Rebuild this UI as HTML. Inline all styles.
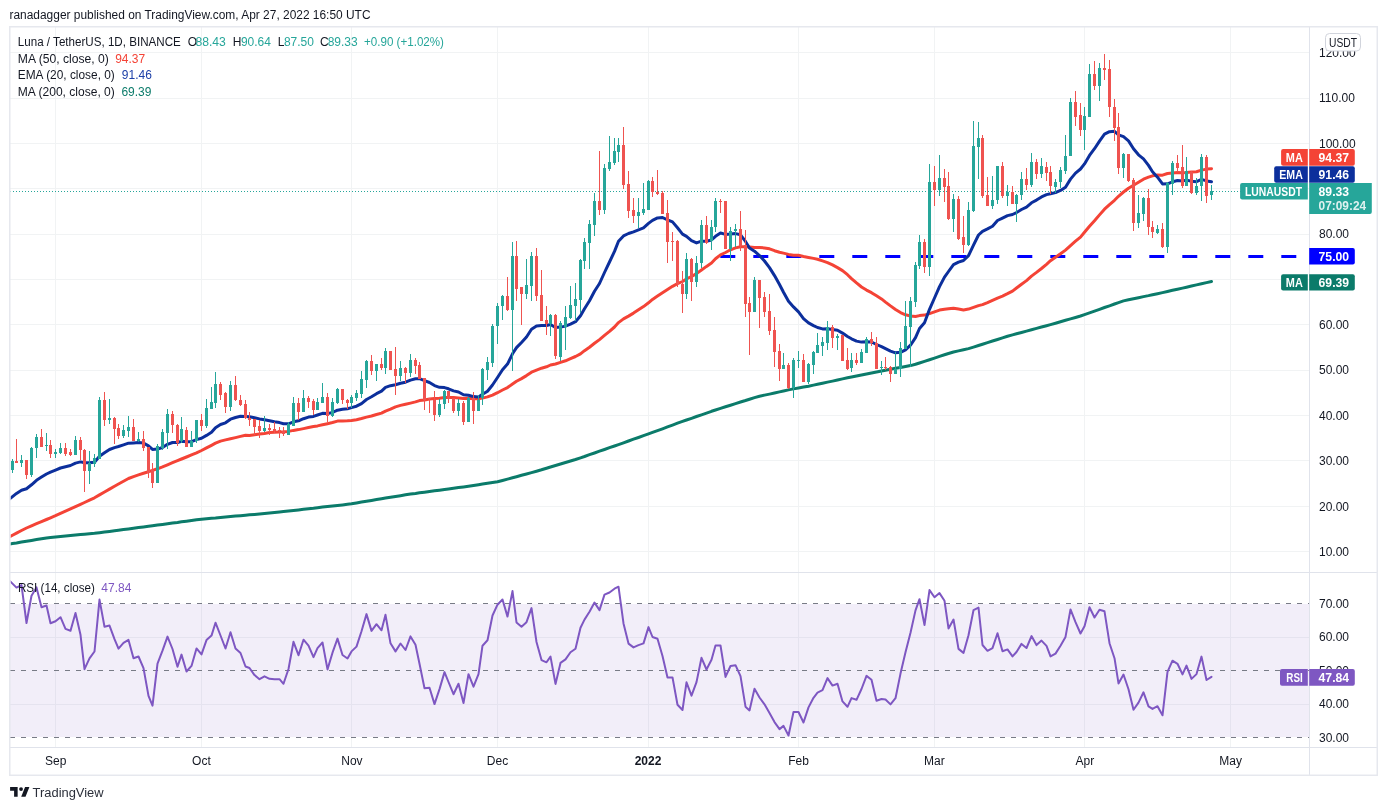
<!DOCTYPE html>
<html><head><meta charset="utf-8"><style>
html,body{margin:0;padding:0;background:#fff;width:1387px;height:810px;overflow:hidden}
svg{display:block;will-change:transform}
</style></head><body>
<svg width="1387" height="810" viewBox="0 0 1387 810" shape-rendering="auto">
<line x1="10" y1="551.5" x2="1309" y2="551.5" stroke="#f1f3f4" stroke-width="1"/>
<line x1="10" y1="506.5" x2="1309" y2="506.5" stroke="#f1f3f4" stroke-width="1"/>
<line x1="10" y1="460.5" x2="1309" y2="460.5" stroke="#f1f3f4" stroke-width="1"/>
<line x1="10" y1="415.5" x2="1309" y2="415.5" stroke="#f1f3f4" stroke-width="1"/>
<line x1="10" y1="370.5" x2="1309" y2="370.5" stroke="#f1f3f4" stroke-width="1"/>
<line x1="10" y1="324.5" x2="1309" y2="324.5" stroke="#f1f3f4" stroke-width="1"/>
<line x1="10" y1="279.5" x2="1309" y2="279.5" stroke="#f1f3f4" stroke-width="1"/>
<line x1="10" y1="234.5" x2="1309" y2="234.5" stroke="#f1f3f4" stroke-width="1"/>
<line x1="10" y1="188.5" x2="1309" y2="188.5" stroke="#f1f3f4" stroke-width="1"/>
<line x1="10" y1="143.5" x2="1309" y2="143.5" stroke="#f1f3f4" stroke-width="1"/>
<line x1="10" y1="98.5" x2="1309" y2="98.5" stroke="#f1f3f4" stroke-width="1"/>
<line x1="10" y1="52.5" x2="1309" y2="52.5" stroke="#f1f3f4" stroke-width="1"/>
<line x1="10" y1="637.5" x2="1309" y2="637.5" stroke="#f1f3f4" stroke-width="1"/>
<line x1="10" y1="704.5" x2="1309" y2="704.5" stroke="#f1f3f4" stroke-width="1"/>
<line x1="55.5" y1="27" x2="55.5" y2="747" stroke="#f1f3f4" stroke-width="1"/>
<line x1="201.5" y1="27" x2="201.5" y2="747" stroke="#f1f3f4" stroke-width="1"/>
<line x1="351.5" y1="27" x2="351.5" y2="747" stroke="#f1f3f4" stroke-width="1"/>
<line x1="497.5" y1="27" x2="497.5" y2="747" stroke="#f1f3f4" stroke-width="1"/>
<line x1="648.5" y1="27" x2="648.5" y2="747" stroke="#f1f3f4" stroke-width="1"/>
<line x1="798.5" y1="27" x2="798.5" y2="747" stroke="#f1f3f4" stroke-width="1"/>
<line x1="934.5" y1="27" x2="934.5" y2="747" stroke="#f1f3f4" stroke-width="1"/>
<line x1="1084.5" y1="27" x2="1084.5" y2="747" stroke="#f1f3f4" stroke-width="1"/>
<line x1="1230.5" y1="27" x2="1230.5" y2="747" stroke="#f1f3f4" stroke-width="1"/>
<rect x="10" y="604" width="1299" height="133" fill="#7e57c2" fill-opacity="0.1"/>
<line x1="10" y1="603.5" x2="1309" y2="603.5" stroke="#787b86" stroke-width="1" stroke-dasharray="5,6"/>
<line x1="10" y1="670.5" x2="1309" y2="670.5" stroke="#787b86" stroke-width="1" stroke-dasharray="5,6"/>
<line x1="10" y1="737.5" x2="1309" y2="737.5" stroke="#787b86" stroke-width="1" stroke-dasharray="5,6"/>
<defs><clipPath id="cm"><rect x="10.5" y="27.5" width="1298.5" height="545"/></clipPath><clipPath id="cr"><rect x="10.5" y="573" width="1298.5" height="174"/></clipPath></defs>
<g clip-path="url(#cm)">
<line x1="10" y1="191.5" x2="1309" y2="191.5" stroke="#26a69a" stroke-width="1" stroke-dasharray="1,2"/>
<line x1="720.3" y1="256.5" x2="1300" y2="256.5" stroke="#0000ff" stroke-width="2.8" stroke-dasharray="15,18"/>
<path d="M8.0,544.4 L12.5,543.6 L16.5,543.0 L21.5,542.1 L26.5,541.3 L31.5,540.4 L36.5,539.6 L41.5,538.7 L46.5,537.9 L50.5,537.4 L55.5,536.9 L60.5,536.4 L65.5,536.0 L70.5,535.5 L75.5,535.0 L80.5,534.6 L84.5,534.2 L89.5,533.7 L94.5,533.3 L99.5,532.7 L104.5,532.0 L109.5,531.4 L114.5,530.7 L118.5,530.2 L123.5,529.5 L128.5,528.9 L133.5,528.2 L138.5,527.5 L143.5,526.9 L148.5,526.2 L152.5,525.7 L157.5,525.0 L162.5,524.4 L167.5,523.7 L172.5,523.0 L177.5,522.4 L181.5,521.8 L186.5,521.2 L191.5,520.5 L196.5,519.8 L201.5,519.3 L206.5,518.8 L211.5,518.3 L215.5,518.0 L220.5,517.5 L225.5,517.1 L230.5,516.6 L235.5,516.1 L240.5,515.7 L245.5,515.2 L249.5,514.8 L254.5,514.4 L259.5,513.9 L264.5,513.4 L269.5,513.0 L274.5,512.5 L279.5,512.0 L283.5,511.6 L288.5,511.0 L293.5,510.4 L298.5,509.9 L303.5,509.3 L308.5,508.7 L313.5,508.2 L317.5,507.7 L322.5,507.1 L327.5,506.6 L332.5,506.0 L337.5,505.4 L342.5,504.9 L347.5,504.3 L351.5,503.8 L356.5,502.9 L361.5,502.1 L366.5,501.3 L371.5,500.4 L376.5,499.6 L381.5,498.8 L385.5,498.1 L390.5,497.3 L395.5,496.5 L400.5,495.7 L405.5,494.8 L410.5,494.0 L415.5,493.4 L419.5,492.8 L424.5,492.2 L429.5,491.5 L434.5,490.8 L439.5,490.2 L444.5,489.5 L448.5,489.0 L453.5,488.3 L458.5,487.6 L463.5,487.0 L468.5,486.3 L473.5,485.5 L478.5,484.7 L482.5,484.1 L487.5,483.3 L492.5,482.6 L497.5,481.8 L502.5,480.5 L507.5,479.1 L512.5,477.8 L516.5,476.7 L521.5,475.3 L526.5,474.0 L531.5,472.6 L536.5,471.2 L541.5,469.8 L546.5,468.2 L550.5,467.0 L555.5,465.5 L560.5,464.0 L565.5,462.5 L570.5,461.0 L575.5,459.5 L580.5,457.8 L584.5,456.5 L589.5,454.7 L594.5,453.0 L599.5,451.2 L604.5,449.5 L609.5,447.7 L614.5,446.0 L618.5,444.6 L623.5,442.8 L628.5,441.0 L633.5,439.2 L638.5,437.5 L643.5,435.7 L648.5,433.9 L652.5,432.4 L657.5,430.6 L662.5,428.8 L667.5,426.9 L672.5,425.1 L677.5,423.2 L682.5,421.4 L686.5,420.0 L691.5,418.3 L696.5,416.5 L701.5,414.8 L706.5,413.1 L711.5,411.3 L715.5,410.0 L720.5,408.3 L725.5,406.7 L730.5,405.2 L735.5,403.6 L740.5,402.0 L745.5,400.5 L749.5,399.2 L754.5,397.6 L759.5,396.2 L764.5,395.1 L769.5,394.1 L774.5,393.0 L779.5,391.9 L783.5,391.0 L788.5,389.9 L793.5,388.9 L798.5,388.0 L803.5,387.1 L808.5,386.2 L813.5,385.1 L817.5,384.3 L822.5,383.2 L827.5,382.1 L832.5,381.1 L837.5,380.0 L842.5,378.9 L847.5,377.8 L851.5,377.0 L856.5,376.0 L861.5,375.0 L866.5,374.0 L871.5,373.0 L876.5,372.0 L881.5,371.0 L885.5,370.2 L890.5,369.2 L895.5,368.3 L900.5,367.4 L905.5,366.5 L910.5,365.6 L915.5,364.3 L919.5,363.0 L924.5,361.3 L929.5,359.7 L934.5,358.1 L939.5,356.4 L944.5,354.8 L948.5,353.5 L953.5,352.0 L958.5,350.9 L963.5,349.8 L968.5,348.6 L973.5,347.1 L978.5,345.5 L982.5,344.2 L987.5,342.6 L992.5,341.0 L997.5,339.5 L1002.5,337.9 L1007.5,336.3 L1012.5,334.9 L1016.5,333.8 L1021.5,332.5 L1026.5,331.1 L1031.5,329.7 L1036.5,328.4 L1041.5,327.0 L1046.5,325.7 L1050.5,324.6 L1055.5,323.2 L1060.5,321.7 L1065.5,320.3 L1070.5,318.9 L1075.5,317.5 L1080.5,316.0 L1084.5,314.6 L1089.5,312.9 L1094.5,311.1 L1099.5,309.3 L1104.5,307.5 L1109.5,305.8 L1114.5,304.0 L1118.5,302.6 L1123.5,300.9 L1128.5,299.8 L1133.5,298.8 L1138.5,297.7 L1143.5,296.6 L1148.5,295.6 L1152.5,294.7 L1157.5,293.7 L1162.5,292.6 L1167.5,291.5 L1172.5,290.3 L1177.5,289.2 L1182.5,288.1 L1186.5,287.2 L1191.5,286.0 L1196.5,284.9 L1201.5,283.8 L1206.5,282.6 L1211.5,281.5" fill="none" stroke="#0b7b6a" stroke-width="3" stroke-linejoin="round" stroke-linecap="round"/>
<path d="M8.0,537.6 L12.5,535.2 L16.5,533.1 L21.5,530.5 L26.5,528.0 L31.5,525.8 L36.5,523.7 L41.5,521.6 L46.5,519.5 L50.5,517.8 L55.5,515.7 L60.5,513.4 L65.5,511.2 L70.5,508.9 L75.5,506.6 L80.5,504.3 L84.5,502.5 L89.5,500.2 L94.5,497.8 L99.5,494.9 L104.5,492.0 L109.5,489.1 L114.5,486.2 L118.5,484.0 L123.5,481.3 L128.5,478.5 L133.5,476.6 L138.5,474.9 L143.5,473.3 L148.5,471.7 L152.5,470.4 L157.5,468.8 L162.5,466.9 L167.5,464.8 L172.5,462.7 L177.5,460.7 L181.5,459.0 L186.5,457.0 L191.5,454.9 L196.5,452.8 L201.5,450.5 L206.5,447.9 L211.5,445.3 L215.5,443.2 L220.5,441.1 L225.5,439.9 L230.5,438.8 L235.5,437.6 L240.5,436.4 L245.5,435.3 L249.5,435.4 L254.5,434.7 L259.5,434.0 L264.5,433.4 L269.5,432.5 L274.5,432.2 L279.5,432.0 L283.5,431.8 L288.5,431.4 L293.5,430.4 L298.5,429.6 L303.5,428.6 L308.5,427.5 L313.5,426.6 L317.5,425.9 L322.5,424.8 L327.5,423.7 L332.5,422.5 L337.5,421.1 L342.5,421.1 L347.5,420.8 L351.5,420.4 L356.5,419.7 L361.5,418.5 L366.5,417.1 L371.5,416.0 L376.5,414.5 L381.5,413.1 L385.5,411.1 L390.5,409.1 L395.5,406.9 L400.5,405.4 L405.5,404.2 L410.5,403.1 L415.5,401.9 L419.5,400.6 L424.5,400.0 L429.5,399.1 L434.5,398.6 L439.5,398.2 L444.5,397.5 L448.5,397.4 L453.5,397.5 L458.5,397.9 L463.5,398.5 L468.5,398.3 L473.5,398.8 L478.5,398.8 L482.5,398.1 L487.5,396.9 L492.5,395.1 L497.5,392.7 L502.5,390.0 L507.5,387.6 L512.5,384.1 L516.5,381.3 L521.5,378.6 L526.5,375.6 L531.5,372.2 L536.5,370.1 L541.5,368.2 L546.5,366.8 L550.5,365.0 L555.5,364.0 L560.5,362.4 L565.5,360.8 L570.5,358.6 L575.5,356.5 L580.5,353.9 L584.5,350.7 L589.5,347.2 L594.5,343.3 L599.5,339.6 L604.5,335.4 L609.5,331.4 L614.5,327.0 L618.5,322.6 L623.5,318.9 L628.5,316.1 L633.5,313.1 L638.5,309.8 L643.5,306.6 L648.5,302.8 L652.5,299.4 L657.5,296.0 L662.5,292.7 L667.5,289.5 L672.5,286.3 L677.5,283.7 L682.5,281.5 L686.5,278.9 L691.5,276.5 L696.5,273.6 L701.5,270.0 L706.5,266.4 L711.5,263.0 L715.5,258.8 L720.5,254.9 L725.5,252.5 L730.5,249.8 L735.5,247.9 L740.5,246.7 L745.5,246.8 L749.5,246.9 L754.5,247.4 L759.5,247.5 L764.5,247.9 L769.5,248.8 L774.5,250.7 L779.5,252.2 L783.5,253.1 L788.5,254.4 L793.5,255.3 L798.5,255.3 L803.5,256.5 L808.5,257.4 L813.5,258.4 L817.5,259.3 L822.5,260.9 L827.5,262.6 L832.5,264.9 L837.5,267.6 L842.5,270.6 L847.5,274.7 L851.5,278.6 L856.5,282.9 L861.5,287.0 L866.5,290.1 L871.5,292.7 L876.5,295.8 L881.5,298.9 L885.5,302.1 L890.5,305.9 L895.5,309.5 L900.5,312.6 L905.5,314.8 L910.5,316.0 L915.5,316.5 L919.5,315.6 L924.5,315.1 L929.5,313.6 L934.5,311.8 L939.5,310.1 L944.5,309.3 L948.5,308.8 L953.5,308.2 L958.5,309.0 L963.5,309.9 L968.5,309.1 L973.5,307.4 L978.5,305.6 L982.5,304.6 L987.5,302.6 L992.5,300.4 L997.5,298.1 L1002.5,296.1 L1007.5,293.7 L1012.5,291.1 L1016.5,288.0 L1021.5,284.2 L1026.5,280.6 L1031.5,276.1 L1036.5,272.4 L1041.5,268.5 L1046.5,264.3 L1050.5,260.7 L1055.5,257.3 L1060.5,253.8 L1065.5,250.1 L1070.5,245.6 L1075.5,241.2 L1080.5,237.1 L1084.5,232.2 L1089.5,226.3 L1094.5,220.8 L1099.5,214.9 L1104.5,209.2 L1109.5,204.6 L1114.5,200.3 L1118.5,196.3 L1123.5,192.0 L1128.5,188.3 L1133.5,185.3 L1138.5,182.2 L1143.5,179.2 L1148.5,177.2 L1152.5,175.8 L1157.5,175.1 L1162.5,175.2 L1167.5,173.5 L1172.5,173.1 L1177.5,172.6 L1182.5,172.8 L1186.5,172.5 L1191.5,172.0 L1196.5,171.7 L1201.5,170.1 L1206.5,169.1 L1211.5,168.7" fill="none" stroke="#f44336" stroke-width="3" stroke-linejoin="round" stroke-linecap="round"/>
<path d="M8.0,500.2 L12.5,496.6 L16.5,493.4 L21.5,490.2 L26.5,488.7 L31.5,484.8 L36.5,480.3 L41.5,477.1 L46.5,474.0 L50.5,472.1 L55.5,470.1 L60.5,468.0 L65.5,466.7 L70.5,465.5 L75.5,463.1 L80.5,461.9 L84.5,462.7 L89.5,462.7 L94.5,462.3 L99.5,456.3 L104.5,452.8 L109.5,449.5 L114.5,447.6 L118.5,446.5 L123.5,444.9 L128.5,443.2 L133.5,442.9 L138.5,442.6 L143.5,443.1 L148.5,445.9 L152.5,449.4 L157.5,449.1 L162.5,447.5 L167.5,444.3 L172.5,442.5 L177.5,442.6 L181.5,441.3 L186.5,441.8 L191.5,441.7 L196.5,439.6 L201.5,438.3 L206.5,435.4 L211.5,432.3 L215.5,427.7 L220.5,424.5 L225.5,422.8 L230.5,419.2 L235.5,417.5 L240.5,416.3 L245.5,416.4 L249.5,416.8 L254.5,417.7 L259.5,418.9 L264.5,419.8 L269.5,420.8 L274.5,421.8 L279.5,422.6 L283.5,423.7 L288.5,423.8 L293.5,421.8 L298.5,420.8 L303.5,418.7 L308.5,417.1 L313.5,416.4 L317.5,415.0 L322.5,413.3 L327.5,413.6 L332.5,412.5 L337.5,410.2 L342.5,409.3 L347.5,408.7 L351.5,407.6 L356.5,406.2 L361.5,403.6 L366.5,399.5 L371.5,396.8 L376.5,393.7 L381.5,391.2 L385.5,387.4 L390.5,385.7 L395.5,384.8 L400.5,383.2 L405.5,382.2 L410.5,380.1 L415.5,378.7 L419.5,378.7 L424.5,380.7 L429.5,382.5 L434.5,385.6 L439.5,387.3 L444.5,387.6 L448.5,388.8 L453.5,390.9 L458.5,392.0 L463.5,394.8 L468.5,395.2 L473.5,396.6 L478.5,396.9 L482.5,394.3 L487.5,391.2 L492.5,385.0 L497.5,377.5 L502.5,369.7 L507.5,364.1 L512.5,353.8 L516.5,347.6 L521.5,342.5 L526.5,337.0 L531.5,329.3 L536.5,326.1 L541.5,325.6 L546.5,325.5 L550.5,324.5 L555.5,327.5 L560.5,327.1 L565.5,326.1 L570.5,324.1 L575.5,321.7 L580.5,315.8 L584.5,308.8 L589.5,300.7 L594.5,291.3 L599.5,283.5 L604.5,272.5 L609.5,262.0 L614.5,251.4 L618.5,241.3 L623.5,235.9 L628.5,233.5 L633.5,231.8 L638.5,229.9 L643.5,227.9 L648.5,223.4 L652.5,220.4 L657.5,217.9 L662.5,217.5 L667.5,219.8 L672.5,221.9 L677.5,227.8 L682.5,234.1 L686.5,236.4 L691.5,240.7 L696.5,242.9 L701.5,241.2 L706.5,241.3 L711.5,240.0 L715.5,236.3 L720.5,233.0 L725.5,234.4 L730.5,234.1 L735.5,233.6 L740.5,234.8 L745.5,241.4 L749.5,248.1 L754.5,251.2 L759.5,255.6 L764.5,261.0 L769.5,267.6 L774.5,275.6 L779.5,284.5 L783.5,292.2 L788.5,301.3 L793.5,306.9 L798.5,311.9 L803.5,318.6 L808.5,322.9 L813.5,325.6 L817.5,327.5 L822.5,328.9 L827.5,328.7 L832.5,329.6 L837.5,330.2 L842.5,333.1 L847.5,336.5 L851.5,338.8 L856.5,341.1 L861.5,342.1 L866.5,341.8 L871.5,342.0 L876.5,344.5 L881.5,346.7 L885.5,348.7 L890.5,351.1 L895.5,352.8 L900.5,352.3 L905.5,349.8 L910.5,345.2 L915.5,337.6 L919.5,328.5 L924.5,322.7 L929.5,309.3 L934.5,298.0 L939.5,286.6 L944.5,277.1 L948.5,271.5 L953.5,264.6 L958.5,262.2 L963.5,260.5 L968.5,255.7 L973.5,245.2 L978.5,235.0 L982.5,231.3 L987.5,228.9 L992.5,226.2 L997.5,220.5 L1002.5,218.1 L1007.5,215.6 L1012.5,214.5 L1016.5,212.6 L1021.5,209.5 L1026.5,207.1 L1031.5,202.8 L1036.5,200.1 L1041.5,196.9 L1046.5,194.6 L1050.5,193.7 L1055.5,192.6 L1060.5,190.4 L1065.5,187.2 L1070.5,179.1 L1075.5,173.1 L1080.5,169.0 L1084.5,163.9 L1089.5,155.4 L1094.5,148.7 L1099.5,141.1 L1104.5,134.2 L1109.5,131.7 L1114.5,131.3 L1118.5,134.8 L1123.5,136.7 L1128.5,140.9 L1133.5,148.7 L1138.5,154.8 L1143.5,158.9 L1148.5,165.4 L1152.5,171.8 L1157.5,177.2 L1162.5,183.9 L1167.5,183.8 L1172.5,181.8 L1177.5,180.5 L1182.5,181.0 L1186.5,180.1 L1191.5,181.3 L1196.5,181.7 L1201.5,179.4 L1206.5,180.9 L1211.5,181.8" fill="none" stroke="#0c2f9c" stroke-width="3" stroke-linejoin="round" stroke-linecap="round"/>
<rect x="12" y="459" width="1" height="14" fill="#26a69a"/>
<rect x="11" y="461" width="3" height="9" fill="#26a69a"/>
<rect x="16" y="439" width="1" height="23" fill="#ef5350"/>
<rect x="15" y="461" width="3" height="2" fill="#ef5350"/>
<rect x="21" y="455" width="1" height="12" fill="#26a69a"/>
<rect x="20" y="460" width="3" height="3" fill="#26a69a"/>
<rect x="26" y="460" width="1" height="19" fill="#ef5350"/>
<rect x="25" y="460" width="3" height="15" fill="#ef5350"/>
<rect x="31" y="447" width="1" height="30" fill="#26a69a"/>
<rect x="30" y="448" width="3" height="27" fill="#26a69a"/>
<rect x="36" y="434" width="1" height="24" fill="#26a69a"/>
<rect x="35" y="437" width="3" height="11" fill="#26a69a"/>
<rect x="41" y="429" width="1" height="18" fill="#ef5350"/>
<rect x="40" y="437" width="3" height="10" fill="#ef5350"/>
<rect x="46" y="433" width="1" height="18" fill="#26a69a"/>
<rect x="45" y="445" width="3" height="1" fill="#26a69a"/>
<rect x="50" y="440" width="1" height="18" fill="#ef5350"/>
<rect x="49" y="445" width="3" height="9" fill="#ef5350"/>
<rect x="55" y="449" width="1" height="9" fill="#26a69a"/>
<rect x="54" y="452" width="3" height="2" fill="#26a69a"/>
<rect x="60" y="443" width="1" height="11" fill="#26a69a"/>
<rect x="59" y="448" width="3" height="5" fill="#26a69a"/>
<rect x="65" y="443" width="1" height="13" fill="#ef5350"/>
<rect x="64" y="448" width="3" height="6" fill="#ef5350"/>
<rect x="70" y="449" width="1" height="7" fill="#ef5350"/>
<rect x="69" y="452" width="3" height="3" fill="#ef5350"/>
<rect x="75" y="436" width="1" height="19" fill="#26a69a"/>
<rect x="74" y="440" width="3" height="15" fill="#26a69a"/>
<rect x="80" y="437" width="1" height="23" fill="#ef5350"/>
<rect x="79" y="440" width="3" height="10" fill="#ef5350"/>
<rect x="84" y="449" width="1" height="43" fill="#ef5350"/>
<rect x="83" y="450" width="3" height="21" fill="#ef5350"/>
<rect x="89" y="451" width="1" height="33" fill="#26a69a"/>
<rect x="88" y="463" width="3" height="8" fill="#26a69a"/>
<rect x="94" y="454" width="1" height="13" fill="#26a69a"/>
<rect x="93" y="458" width="3" height="6" fill="#26a69a"/>
<rect x="99" y="397" width="1" height="62" fill="#26a69a"/>
<rect x="98" y="400" width="3" height="59" fill="#26a69a"/>
<rect x="104" y="392" width="1" height="34" fill="#ef5350"/>
<rect x="103" y="400" width="3" height="20" fill="#ef5350"/>
<rect x="109" y="399" width="1" height="25" fill="#26a69a"/>
<rect x="108" y="418" width="3" height="2" fill="#26a69a"/>
<rect x="114" y="417" width="1" height="27" fill="#ef5350"/>
<rect x="113" y="418" width="3" height="11" fill="#ef5350"/>
<rect x="118" y="424" width="1" height="15" fill="#ef5350"/>
<rect x="117" y="428" width="3" height="8" fill="#ef5350"/>
<rect x="123" y="425" width="1" height="13" fill="#26a69a"/>
<rect x="122" y="430" width="3" height="6" fill="#26a69a"/>
<rect x="128" y="416" width="1" height="21" fill="#26a69a"/>
<rect x="127" y="427" width="3" height="4" fill="#26a69a"/>
<rect x="133" y="419" width="1" height="22" fill="#ef5350"/>
<rect x="132" y="427" width="3" height="14" fill="#ef5350"/>
<rect x="138" y="432" width="1" height="10" fill="#26a69a"/>
<rect x="137" y="439" width="3" height="2" fill="#26a69a"/>
<rect x="143" y="431" width="1" height="20" fill="#ef5350"/>
<rect x="142" y="439" width="3" height="9" fill="#ef5350"/>
<rect x="148" y="447" width="1" height="31" fill="#ef5350"/>
<rect x="147" y="447" width="3" height="26" fill="#ef5350"/>
<rect x="152" y="463" width="1" height="25" fill="#ef5350"/>
<rect x="151" y="470" width="3" height="13" fill="#ef5350"/>
<rect x="157" y="444" width="1" height="39" fill="#26a69a"/>
<rect x="156" y="446" width="3" height="37" fill="#26a69a"/>
<rect x="162" y="429" width="1" height="21" fill="#26a69a"/>
<rect x="161" y="432" width="3" height="16" fill="#26a69a"/>
<rect x="167" y="409" width="1" height="40" fill="#26a69a"/>
<rect x="166" y="414" width="3" height="19" fill="#26a69a"/>
<rect x="172" y="411" width="1" height="22" fill="#ef5350"/>
<rect x="171" y="414" width="3" height="11" fill="#ef5350"/>
<rect x="177" y="424" width="1" height="22" fill="#ef5350"/>
<rect x="176" y="425" width="3" height="18" fill="#ef5350"/>
<rect x="181" y="417" width="1" height="26" fill="#26a69a"/>
<rect x="180" y="429" width="3" height="12" fill="#26a69a"/>
<rect x="186" y="427" width="1" height="20" fill="#ef5350"/>
<rect x="185" y="430" width="3" height="17" fill="#ef5350"/>
<rect x="191" y="431" width="1" height="16" fill="#26a69a"/>
<rect x="190" y="441" width="3" height="6" fill="#26a69a"/>
<rect x="196" y="420" width="1" height="23" fill="#26a69a"/>
<rect x="195" y="420" width="3" height="21" fill="#26a69a"/>
<rect x="201" y="414" width="1" height="17" fill="#ef5350"/>
<rect x="200" y="420" width="3" height="6" fill="#ef5350"/>
<rect x="206" y="399" width="1" height="29" fill="#26a69a"/>
<rect x="205" y="408" width="3" height="18" fill="#26a69a"/>
<rect x="211" y="387" width="1" height="22" fill="#26a69a"/>
<rect x="210" y="402" width="3" height="7" fill="#26a69a"/>
<rect x="215" y="372" width="1" height="36" fill="#26a69a"/>
<rect x="214" y="384" width="3" height="19" fill="#26a69a"/>
<rect x="220" y="382" width="1" height="18" fill="#ef5350"/>
<rect x="219" y="384" width="3" height="11" fill="#ef5350"/>
<rect x="225" y="392" width="1" height="21" fill="#ef5350"/>
<rect x="224" y="393" width="3" height="14" fill="#ef5350"/>
<rect x="230" y="381" width="1" height="30" fill="#26a69a"/>
<rect x="229" y="385" width="3" height="22" fill="#26a69a"/>
<rect x="235" y="376" width="1" height="25" fill="#ef5350"/>
<rect x="234" y="385" width="3" height="15" fill="#ef5350"/>
<rect x="240" y="395" width="1" height="11" fill="#ef5350"/>
<rect x="239" y="400" width="3" height="5" fill="#ef5350"/>
<rect x="245" y="400" width="1" height="19" fill="#ef5350"/>
<rect x="244" y="404" width="3" height="14" fill="#ef5350"/>
<rect x="249" y="412" width="1" height="14" fill="#ef5350"/>
<rect x="248" y="418" width="3" height="2" fill="#ef5350"/>
<rect x="254" y="419" width="1" height="16" fill="#ef5350"/>
<rect x="253" y="419" width="3" height="8" fill="#ef5350"/>
<rect x="259" y="420" width="1" height="18" fill="#ef5350"/>
<rect x="258" y="426" width="3" height="5" fill="#ef5350"/>
<rect x="264" y="416" width="1" height="16" fill="#26a69a"/>
<rect x="263" y="428" width="3" height="3" fill="#26a69a"/>
<rect x="269" y="424" width="1" height="11" fill="#ef5350"/>
<rect x="268" y="428" width="3" height="2" fill="#ef5350"/>
<rect x="274" y="422" width="1" height="11" fill="#ef5350"/>
<rect x="273" y="429" width="3" height="2" fill="#ef5350"/>
<rect x="279" y="427" width="1" height="11" fill="#ef5350"/>
<rect x="278" y="430" width="3" height="1" fill="#ef5350"/>
<rect x="283" y="427" width="1" height="9" fill="#ef5350"/>
<rect x="282" y="431" width="3" height="3" fill="#ef5350"/>
<rect x="288" y="422" width="1" height="13" fill="#26a69a"/>
<rect x="287" y="424" width="3" height="11" fill="#26a69a"/>
<rect x="293" y="397" width="1" height="29" fill="#26a69a"/>
<rect x="292" y="403" width="3" height="23" fill="#26a69a"/>
<rect x="298" y="398" width="1" height="22" fill="#ef5350"/>
<rect x="297" y="403" width="3" height="9" fill="#ef5350"/>
<rect x="303" y="390" width="1" height="22" fill="#26a69a"/>
<rect x="302" y="398" width="3" height="14" fill="#26a69a"/>
<rect x="308" y="396" width="1" height="12" fill="#ef5350"/>
<rect x="307" y="398" width="3" height="4" fill="#ef5350"/>
<rect x="313" y="399" width="1" height="16" fill="#ef5350"/>
<rect x="312" y="401" width="3" height="9" fill="#ef5350"/>
<rect x="317" y="398" width="1" height="12" fill="#26a69a"/>
<rect x="316" y="402" width="3" height="8" fill="#26a69a"/>
<rect x="322" y="383" width="1" height="20" fill="#26a69a"/>
<rect x="321" y="397" width="3" height="6" fill="#26a69a"/>
<rect x="327" y="393" width="1" height="29" fill="#ef5350"/>
<rect x="326" y="397" width="3" height="19" fill="#ef5350"/>
<rect x="332" y="398" width="1" height="19" fill="#26a69a"/>
<rect x="331" y="402" width="3" height="14" fill="#26a69a"/>
<rect x="337" y="388" width="1" height="16" fill="#26a69a"/>
<rect x="336" y="389" width="3" height="14" fill="#26a69a"/>
<rect x="342" y="389" width="1" height="15" fill="#ef5350"/>
<rect x="341" y="389" width="3" height="11" fill="#ef5350"/>
<rect x="347" y="399" width="1" height="10" fill="#ef5350"/>
<rect x="346" y="400" width="3" height="3" fill="#ef5350"/>
<rect x="351" y="395" width="1" height="13" fill="#26a69a"/>
<rect x="350" y="397" width="3" height="6" fill="#26a69a"/>
<rect x="356" y="390" width="1" height="11" fill="#26a69a"/>
<rect x="355" y="393" width="3" height="5" fill="#26a69a"/>
<rect x="361" y="371" width="1" height="27" fill="#26a69a"/>
<rect x="360" y="379" width="3" height="15" fill="#26a69a"/>
<rect x="366" y="360" width="1" height="28" fill="#26a69a"/>
<rect x="365" y="361" width="3" height="19" fill="#26a69a"/>
<rect x="371" y="355" width="1" height="20" fill="#ef5350"/>
<rect x="370" y="361" width="3" height="10" fill="#ef5350"/>
<rect x="376" y="364" width="1" height="17" fill="#26a69a"/>
<rect x="375" y="364" width="3" height="7" fill="#26a69a"/>
<rect x="381" y="358" width="1" height="12" fill="#ef5350"/>
<rect x="380" y="364" width="3" height="4" fill="#ef5350"/>
<rect x="385" y="348" width="1" height="26" fill="#26a69a"/>
<rect x="384" y="351" width="3" height="17" fill="#26a69a"/>
<rect x="390" y="351" width="1" height="19" fill="#ef5350"/>
<rect x="389" y="351" width="3" height="19" fill="#ef5350"/>
<rect x="395" y="347" width="1" height="48" fill="#ef5350"/>
<rect x="394" y="369" width="3" height="7" fill="#ef5350"/>
<rect x="400" y="361" width="1" height="20" fill="#26a69a"/>
<rect x="399" y="368" width="3" height="8" fill="#26a69a"/>
<rect x="405" y="367" width="1" height="16" fill="#ef5350"/>
<rect x="404" y="368" width="3" height="5" fill="#ef5350"/>
<rect x="410" y="354" width="1" height="23" fill="#26a69a"/>
<rect x="409" y="360" width="3" height="13" fill="#26a69a"/>
<rect x="415" y="358" width="1" height="16" fill="#ef5350"/>
<rect x="414" y="360" width="3" height="6" fill="#ef5350"/>
<rect x="419" y="362" width="1" height="17" fill="#ef5350"/>
<rect x="418" y="365" width="3" height="14" fill="#ef5350"/>
<rect x="424" y="378" width="1" height="32" fill="#ef5350"/>
<rect x="423" y="378" width="3" height="22" fill="#ef5350"/>
<rect x="429" y="398" width="1" height="15" fill="#ef5350"/>
<rect x="428" y="398" width="3" height="1" fill="#ef5350"/>
<rect x="434" y="391" width="1" height="30" fill="#ef5350"/>
<rect x="433" y="400" width="3" height="15" fill="#ef5350"/>
<rect x="439" y="399" width="1" height="18" fill="#26a69a"/>
<rect x="438" y="404" width="3" height="11" fill="#26a69a"/>
<rect x="444" y="390" width="1" height="19" fill="#26a69a"/>
<rect x="443" y="391" width="3" height="13" fill="#26a69a"/>
<rect x="448" y="391" width="1" height="12" fill="#ef5350"/>
<rect x="447" y="391" width="3" height="8" fill="#ef5350"/>
<rect x="453" y="398" width="1" height="15" fill="#ef5350"/>
<rect x="452" y="398" width="3" height="13" fill="#ef5350"/>
<rect x="458" y="399" width="1" height="17" fill="#26a69a"/>
<rect x="457" y="403" width="3" height="8" fill="#26a69a"/>
<rect x="463" y="401" width="1" height="24" fill="#ef5350"/>
<rect x="462" y="403" width="3" height="19" fill="#ef5350"/>
<rect x="468" y="397" width="1" height="25" fill="#26a69a"/>
<rect x="467" y="398" width="3" height="24" fill="#26a69a"/>
<rect x="473" y="392" width="1" height="32" fill="#ef5350"/>
<rect x="472" y="398" width="3" height="13" fill="#ef5350"/>
<rect x="478" y="395" width="1" height="16" fill="#26a69a"/>
<rect x="477" y="400" width="3" height="11" fill="#26a69a"/>
<rect x="482" y="368" width="1" height="37" fill="#26a69a"/>
<rect x="481" y="369" width="3" height="29" fill="#26a69a"/>
<rect x="487" y="357" width="1" height="23" fill="#26a69a"/>
<rect x="486" y="362" width="3" height="8" fill="#26a69a"/>
<rect x="492" y="324" width="1" height="43" fill="#26a69a"/>
<rect x="491" y="326" width="3" height="37" fill="#26a69a"/>
<rect x="497" y="303" width="1" height="41" fill="#26a69a"/>
<rect x="496" y="306" width="3" height="20" fill="#26a69a"/>
<rect x="502" y="295" width="1" height="25" fill="#26a69a"/>
<rect x="501" y="296" width="3" height="10" fill="#26a69a"/>
<rect x="507" y="277" width="1" height="34" fill="#ef5350"/>
<rect x="506" y="296" width="3" height="14" fill="#ef5350"/>
<rect x="512" y="242" width="1" height="129" fill="#26a69a"/>
<rect x="511" y="256" width="3" height="54" fill="#26a69a"/>
<rect x="516" y="241" width="1" height="60" fill="#ef5350"/>
<rect x="515" y="256" width="3" height="33" fill="#ef5350"/>
<rect x="521" y="287" width="1" height="38" fill="#ef5350"/>
<rect x="520" y="287" width="3" height="7" fill="#ef5350"/>
<rect x="526" y="259" width="1" height="40" fill="#26a69a"/>
<rect x="525" y="285" width="3" height="9" fill="#26a69a"/>
<rect x="531" y="252" width="1" height="49" fill="#26a69a"/>
<rect x="530" y="256" width="3" height="30" fill="#26a69a"/>
<rect x="536" y="248" width="1" height="53" fill="#ef5350"/>
<rect x="535" y="256" width="3" height="40" fill="#ef5350"/>
<rect x="541" y="270" width="1" height="51" fill="#ef5350"/>
<rect x="540" y="295" width="3" height="26" fill="#ef5350"/>
<rect x="546" y="306" width="1" height="29" fill="#ef5350"/>
<rect x="545" y="320" width="3" height="4" fill="#ef5350"/>
<rect x="550" y="314" width="1" height="22" fill="#26a69a"/>
<rect x="549" y="315" width="3" height="9" fill="#26a69a"/>
<rect x="555" y="314" width="1" height="45" fill="#ef5350"/>
<rect x="554" y="315" width="3" height="41" fill="#ef5350"/>
<rect x="560" y="321" width="1" height="40" fill="#26a69a"/>
<rect x="559" y="323" width="3" height="34" fill="#26a69a"/>
<rect x="565" y="306" width="1" height="44" fill="#26a69a"/>
<rect x="564" y="317" width="3" height="10" fill="#26a69a"/>
<rect x="570" y="286" width="1" height="33" fill="#26a69a"/>
<rect x="569" y="305" width="3" height="13" fill="#26a69a"/>
<rect x="575" y="283" width="1" height="38" fill="#26a69a"/>
<rect x="574" y="299" width="3" height="7" fill="#26a69a"/>
<rect x="580" y="259" width="1" height="54" fill="#26a69a"/>
<rect x="579" y="260" width="3" height="40" fill="#26a69a"/>
<rect x="584" y="238" width="1" height="31" fill="#26a69a"/>
<rect x="583" y="242" width="3" height="19" fill="#26a69a"/>
<rect x="589" y="220" width="1" height="49" fill="#26a69a"/>
<rect x="588" y="224" width="3" height="19" fill="#26a69a"/>
<rect x="594" y="193" width="1" height="43" fill="#26a69a"/>
<rect x="593" y="201" width="3" height="24" fill="#26a69a"/>
<rect x="599" y="151" width="1" height="64" fill="#ef5350"/>
<rect x="598" y="201" width="3" height="9" fill="#ef5350"/>
<rect x="604" y="164" width="1" height="50" fill="#26a69a"/>
<rect x="603" y="168" width="3" height="42" fill="#26a69a"/>
<rect x="609" y="136" width="1" height="35" fill="#26a69a"/>
<rect x="608" y="162" width="3" height="7" fill="#26a69a"/>
<rect x="614" y="138" width="1" height="27" fill="#26a69a"/>
<rect x="613" y="151" width="3" height="12" fill="#26a69a"/>
<rect x="618" y="138" width="1" height="24" fill="#26a69a"/>
<rect x="617" y="145" width="3" height="7" fill="#26a69a"/>
<rect x="623" y="127" width="1" height="62" fill="#ef5350"/>
<rect x="622" y="145" width="3" height="40" fill="#ef5350"/>
<rect x="628" y="171" width="1" height="47" fill="#ef5350"/>
<rect x="627" y="184" width="3" height="27" fill="#ef5350"/>
<rect x="633" y="198" width="1" height="25" fill="#ef5350"/>
<rect x="632" y="210" width="3" height="6" fill="#ef5350"/>
<rect x="638" y="198" width="1" height="30" fill="#26a69a"/>
<rect x="637" y="212" width="3" height="4" fill="#26a69a"/>
<rect x="643" y="183" width="1" height="32" fill="#26a69a"/>
<rect x="642" y="209" width="3" height="4" fill="#26a69a"/>
<rect x="648" y="180" width="1" height="30" fill="#26a69a"/>
<rect x="647" y="181" width="3" height="29" fill="#26a69a"/>
<rect x="652" y="177" width="1" height="20" fill="#ef5350"/>
<rect x="651" y="181" width="3" height="11" fill="#ef5350"/>
<rect x="657" y="170" width="1" height="25" fill="#ef5350"/>
<rect x="656" y="192" width="3" height="2" fill="#ef5350"/>
<rect x="662" y="191" width="1" height="23" fill="#ef5350"/>
<rect x="661" y="193" width="3" height="21" fill="#ef5350"/>
<rect x="667" y="200" width="1" height="63" fill="#ef5350"/>
<rect x="666" y="213" width="3" height="29" fill="#ef5350"/>
<rect x="672" y="232" width="1" height="29" fill="#ef5350"/>
<rect x="671" y="241" width="3" height="1" fill="#ef5350"/>
<rect x="677" y="240" width="1" height="47" fill="#ef5350"/>
<rect x="676" y="241" width="3" height="43" fill="#ef5350"/>
<rect x="682" y="271" width="1" height="42" fill="#ef5350"/>
<rect x="681" y="284" width="3" height="10" fill="#ef5350"/>
<rect x="686" y="253" width="1" height="46" fill="#26a69a"/>
<rect x="685" y="259" width="3" height="35" fill="#26a69a"/>
<rect x="691" y="258" width="1" height="43" fill="#ef5350"/>
<rect x="690" y="259" width="3" height="23" fill="#ef5350"/>
<rect x="696" y="256" width="1" height="31" fill="#26a69a"/>
<rect x="695" y="263" width="3" height="19" fill="#26a69a"/>
<rect x="701" y="220" width="1" height="48" fill="#26a69a"/>
<rect x="700" y="225" width="3" height="38" fill="#26a69a"/>
<rect x="706" y="216" width="1" height="28" fill="#ef5350"/>
<rect x="705" y="225" width="3" height="18" fill="#ef5350"/>
<rect x="711" y="220" width="1" height="30" fill="#26a69a"/>
<rect x="710" y="227" width="3" height="14" fill="#26a69a"/>
<rect x="715" y="198" width="1" height="34" fill="#26a69a"/>
<rect x="714" y="201" width="3" height="26" fill="#26a69a"/>
<rect x="720" y="199" width="1" height="14" fill="#ef5350"/>
<rect x="719" y="201" width="3" height="1" fill="#ef5350"/>
<rect x="725" y="201" width="1" height="48" fill="#ef5350"/>
<rect x="724" y="201" width="3" height="48" fill="#ef5350"/>
<rect x="730" y="227" width="1" height="34" fill="#26a69a"/>
<rect x="729" y="231" width="3" height="18" fill="#26a69a"/>
<rect x="735" y="224" width="1" height="23" fill="#26a69a"/>
<rect x="734" y="229" width="3" height="2" fill="#26a69a"/>
<rect x="740" y="211" width="1" height="40" fill="#ef5350"/>
<rect x="739" y="229" width="3" height="17" fill="#ef5350"/>
<rect x="745" y="230" width="1" height="87" fill="#ef5350"/>
<rect x="744" y="245" width="3" height="59" fill="#ef5350"/>
<rect x="749" y="297" width="1" height="58" fill="#ef5350"/>
<rect x="748" y="303" width="3" height="9" fill="#ef5350"/>
<rect x="754" y="277" width="1" height="35" fill="#26a69a"/>
<rect x="753" y="280" width="3" height="32" fill="#26a69a"/>
<rect x="759" y="280" width="1" height="48" fill="#ef5350"/>
<rect x="758" y="280" width="3" height="18" fill="#ef5350"/>
<rect x="764" y="292" width="1" height="25" fill="#ef5350"/>
<rect x="763" y="297" width="3" height="15" fill="#ef5350"/>
<rect x="769" y="294" width="1" height="41" fill="#ef5350"/>
<rect x="768" y="311" width="3" height="20" fill="#ef5350"/>
<rect x="774" y="317" width="1" height="50" fill="#ef5350"/>
<rect x="773" y="330" width="3" height="22" fill="#ef5350"/>
<rect x="779" y="344" width="1" height="37" fill="#ef5350"/>
<rect x="778" y="351" width="3" height="18" fill="#ef5350"/>
<rect x="783" y="353" width="1" height="16" fill="#26a69a"/>
<rect x="782" y="365" width="3" height="4" fill="#26a69a"/>
<rect x="788" y="363" width="1" height="26" fill="#ef5350"/>
<rect x="787" y="365" width="3" height="23" fill="#ef5350"/>
<rect x="793" y="358" width="1" height="40" fill="#26a69a"/>
<rect x="792" y="360" width="3" height="28" fill="#26a69a"/>
<rect x="798" y="351" width="1" height="17" fill="#26a69a"/>
<rect x="797" y="360" width="3" height="1" fill="#26a69a"/>
<rect x="803" y="354" width="1" height="28" fill="#ef5350"/>
<rect x="802" y="360" width="3" height="22" fill="#ef5350"/>
<rect x="808" y="363" width="1" height="21" fill="#26a69a"/>
<rect x="807" y="364" width="3" height="18" fill="#26a69a"/>
<rect x="813" y="351" width="1" height="23" fill="#26a69a"/>
<rect x="812" y="352" width="3" height="13" fill="#26a69a"/>
<rect x="817" y="333" width="1" height="20" fill="#26a69a"/>
<rect x="816" y="345" width="3" height="8" fill="#26a69a"/>
<rect x="822" y="337" width="1" height="19" fill="#26a69a"/>
<rect x="821" y="342" width="3" height="4" fill="#26a69a"/>
<rect x="827" y="321" width="1" height="29" fill="#26a69a"/>
<rect x="826" y="327" width="3" height="16" fill="#26a69a"/>
<rect x="832" y="325" width="1" height="23" fill="#ef5350"/>
<rect x="831" y="327" width="3" height="11" fill="#ef5350"/>
<rect x="837" y="334" width="1" height="16" fill="#26a69a"/>
<rect x="836" y="336" width="3" height="2" fill="#26a69a"/>
<rect x="842" y="335" width="1" height="26" fill="#ef5350"/>
<rect x="841" y="335" width="3" height="26" fill="#ef5350"/>
<rect x="847" y="348" width="1" height="22" fill="#ef5350"/>
<rect x="846" y="360" width="3" height="9" fill="#ef5350"/>
<rect x="851" y="353" width="1" height="19" fill="#26a69a"/>
<rect x="850" y="360" width="3" height="8" fill="#26a69a"/>
<rect x="856" y="353" width="1" height="12" fill="#ef5350"/>
<rect x="855" y="360" width="3" height="3" fill="#ef5350"/>
<rect x="861" y="349" width="1" height="14" fill="#26a69a"/>
<rect x="860" y="352" width="3" height="11" fill="#26a69a"/>
<rect x="866" y="337" width="1" height="16" fill="#26a69a"/>
<rect x="865" y="339" width="3" height="14" fill="#26a69a"/>
<rect x="871" y="332" width="1" height="14" fill="#ef5350"/>
<rect x="870" y="339" width="3" height="4" fill="#ef5350"/>
<rect x="876" y="337" width="1" height="32" fill="#ef5350"/>
<rect x="875" y="343" width="3" height="26" fill="#ef5350"/>
<rect x="881" y="361" width="1" height="14" fill="#26a69a"/>
<rect x="880" y="367" width="3" height="1" fill="#26a69a"/>
<rect x="885" y="357" width="1" height="13" fill="#ef5350"/>
<rect x="884" y="367" width="3" height="1" fill="#ef5350"/>
<rect x="890" y="366" width="1" height="16" fill="#ef5350"/>
<rect x="889" y="367" width="3" height="7" fill="#ef5350"/>
<rect x="895" y="352" width="1" height="22" fill="#26a69a"/>
<rect x="894" y="369" width="3" height="5" fill="#26a69a"/>
<rect x="900" y="342" width="1" height="35" fill="#26a69a"/>
<rect x="899" y="348" width="3" height="21" fill="#26a69a"/>
<rect x="905" y="301" width="1" height="48" fill="#26a69a"/>
<rect x="904" y="326" width="3" height="23" fill="#26a69a"/>
<rect x="910" y="297" width="1" height="70" fill="#26a69a"/>
<rect x="909" y="301" width="3" height="26" fill="#26a69a"/>
<rect x="915" y="262" width="1" height="45" fill="#26a69a"/>
<rect x="914" y="265" width="3" height="37" fill="#26a69a"/>
<rect x="919" y="235" width="1" height="34" fill="#26a69a"/>
<rect x="918" y="242" width="3" height="24" fill="#26a69a"/>
<rect x="924" y="239" width="1" height="34" fill="#ef5350"/>
<rect x="923" y="242" width="3" height="25" fill="#ef5350"/>
<rect x="929" y="164" width="1" height="112" fill="#26a69a"/>
<rect x="928" y="182" width="3" height="85" fill="#26a69a"/>
<rect x="934" y="166" width="1" height="40" fill="#ef5350"/>
<rect x="933" y="182" width="3" height="8" fill="#ef5350"/>
<rect x="939" y="155" width="1" height="41" fill="#26a69a"/>
<rect x="938" y="178" width="3" height="12" fill="#26a69a"/>
<rect x="944" y="169" width="1" height="33" fill="#ef5350"/>
<rect x="943" y="178" width="3" height="9" fill="#ef5350"/>
<rect x="948" y="172" width="1" height="48" fill="#ef5350"/>
<rect x="947" y="186" width="3" height="33" fill="#ef5350"/>
<rect x="953" y="194" width="1" height="38" fill="#26a69a"/>
<rect x="952" y="199" width="3" height="20" fill="#26a69a"/>
<rect x="958" y="196" width="1" height="44" fill="#ef5350"/>
<rect x="957" y="199" width="3" height="40" fill="#ef5350"/>
<rect x="963" y="216" width="1" height="37" fill="#ef5350"/>
<rect x="962" y="237" width="3" height="8" fill="#ef5350"/>
<rect x="968" y="202" width="1" height="44" fill="#26a69a"/>
<rect x="967" y="210" width="3" height="35" fill="#26a69a"/>
<rect x="973" y="121" width="1" height="91" fill="#26a69a"/>
<rect x="972" y="146" width="3" height="65" fill="#26a69a"/>
<rect x="978" y="122" width="1" height="57" fill="#26a69a"/>
<rect x="977" y="138" width="3" height="9" fill="#26a69a"/>
<rect x="982" y="135" width="1" height="63" fill="#ef5350"/>
<rect x="981" y="138" width="3" height="58" fill="#ef5350"/>
<rect x="987" y="177" width="1" height="29" fill="#ef5350"/>
<rect x="986" y="195" width="3" height="11" fill="#ef5350"/>
<rect x="992" y="176" width="1" height="33" fill="#26a69a"/>
<rect x="991" y="200" width="3" height="6" fill="#26a69a"/>
<rect x="997" y="166" width="1" height="38" fill="#26a69a"/>
<rect x="996" y="166" width="3" height="34" fill="#26a69a"/>
<rect x="1002" y="162" width="1" height="36" fill="#ef5350"/>
<rect x="1001" y="166" width="3" height="30" fill="#ef5350"/>
<rect x="1007" y="185" width="1" height="21" fill="#26a69a"/>
<rect x="1006" y="192" width="3" height="4" fill="#26a69a"/>
<rect x="1012" y="186" width="1" height="18" fill="#ef5350"/>
<rect x="1011" y="192" width="3" height="12" fill="#ef5350"/>
<rect x="1016" y="194" width="1" height="28" fill="#26a69a"/>
<rect x="1015" y="195" width="3" height="9" fill="#26a69a"/>
<rect x="1021" y="172" width="1" height="28" fill="#26a69a"/>
<rect x="1020" y="179" width="3" height="16" fill="#26a69a"/>
<rect x="1026" y="168" width="1" height="22" fill="#ef5350"/>
<rect x="1025" y="179" width="3" height="6" fill="#ef5350"/>
<rect x="1031" y="153" width="1" height="34" fill="#26a69a"/>
<rect x="1030" y="162" width="3" height="23" fill="#26a69a"/>
<rect x="1036" y="159" width="1" height="20" fill="#ef5350"/>
<rect x="1035" y="162" width="3" height="12" fill="#ef5350"/>
<rect x="1041" y="158" width="1" height="20" fill="#26a69a"/>
<rect x="1040" y="166" width="3" height="8" fill="#26a69a"/>
<rect x="1046" y="162" width="1" height="19" fill="#ef5350"/>
<rect x="1045" y="167" width="3" height="6" fill="#ef5350"/>
<rect x="1050" y="166" width="1" height="28" fill="#ef5350"/>
<rect x="1049" y="172" width="3" height="14" fill="#ef5350"/>
<rect x="1055" y="179" width="1" height="14" fill="#26a69a"/>
<rect x="1054" y="182" width="3" height="5" fill="#26a69a"/>
<rect x="1060" y="167" width="1" height="21" fill="#26a69a"/>
<rect x="1059" y="170" width="3" height="12" fill="#26a69a"/>
<rect x="1065" y="135" width="1" height="39" fill="#26a69a"/>
<rect x="1064" y="156" width="3" height="15" fill="#26a69a"/>
<rect x="1070" y="98" width="1" height="58" fill="#26a69a"/>
<rect x="1069" y="102" width="3" height="54" fill="#26a69a"/>
<rect x="1075" y="91" width="1" height="35" fill="#ef5350"/>
<rect x="1074" y="102" width="3" height="15" fill="#ef5350"/>
<rect x="1080" y="103" width="1" height="33" fill="#ef5350"/>
<rect x="1079" y="115" width="3" height="15" fill="#ef5350"/>
<rect x="1084" y="107" width="1" height="43" fill="#26a69a"/>
<rect x="1083" y="116" width="3" height="14" fill="#26a69a"/>
<rect x="1089" y="64" width="1" height="53" fill="#26a69a"/>
<rect x="1088" y="74" width="3" height="43" fill="#26a69a"/>
<rect x="1094" y="61" width="1" height="29" fill="#ef5350"/>
<rect x="1093" y="74" width="3" height="12" fill="#ef5350"/>
<rect x="1099" y="63" width="1" height="38" fill="#26a69a"/>
<rect x="1098" y="68" width="3" height="18" fill="#26a69a"/>
<rect x="1104" y="54" width="1" height="26" fill="#ef5350"/>
<rect x="1103" y="68" width="3" height="2" fill="#ef5350"/>
<rect x="1109" y="60" width="1" height="57" fill="#ef5350"/>
<rect x="1108" y="69" width="3" height="38" fill="#ef5350"/>
<rect x="1114" y="99" width="1" height="42" fill="#ef5350"/>
<rect x="1113" y="107" width="3" height="21" fill="#ef5350"/>
<rect x="1118" y="113" width="1" height="61" fill="#ef5350"/>
<rect x="1117" y="127" width="3" height="41" fill="#ef5350"/>
<rect x="1123" y="153" width="1" height="25" fill="#26a69a"/>
<rect x="1122" y="154" width="3" height="14" fill="#26a69a"/>
<rect x="1128" y="154" width="1" height="28" fill="#ef5350"/>
<rect x="1127" y="154" width="3" height="27" fill="#ef5350"/>
<rect x="1133" y="178" width="1" height="53" fill="#ef5350"/>
<rect x="1132" y="180" width="3" height="43" fill="#ef5350"/>
<rect x="1138" y="195" width="1" height="33" fill="#26a69a"/>
<rect x="1137" y="213" width="3" height="10" fill="#26a69a"/>
<rect x="1143" y="197" width="1" height="24" fill="#26a69a"/>
<rect x="1142" y="198" width="3" height="16" fill="#26a69a"/>
<rect x="1148" y="189" width="1" height="46" fill="#ef5350"/>
<rect x="1147" y="198" width="3" height="29" fill="#ef5350"/>
<rect x="1152" y="221" width="1" height="17" fill="#ef5350"/>
<rect x="1151" y="227" width="3" height="5" fill="#ef5350"/>
<rect x="1157" y="225" width="1" height="9" fill="#26a69a"/>
<rect x="1156" y="229" width="3" height="4" fill="#26a69a"/>
<rect x="1162" y="223" width="1" height="25" fill="#ef5350"/>
<rect x="1161" y="229" width="3" height="18" fill="#ef5350"/>
<rect x="1167" y="182" width="1" height="71" fill="#26a69a"/>
<rect x="1166" y="183" width="3" height="64" fill="#26a69a"/>
<rect x="1172" y="161" width="1" height="34" fill="#26a69a"/>
<rect x="1171" y="163" width="3" height="21" fill="#26a69a"/>
<rect x="1177" y="155" width="1" height="17" fill="#ef5350"/>
<rect x="1176" y="163" width="3" height="5" fill="#ef5350"/>
<rect x="1182" y="145" width="1" height="43" fill="#ef5350"/>
<rect x="1181" y="167" width="3" height="19" fill="#ef5350"/>
<rect x="1186" y="157" width="1" height="29" fill="#26a69a"/>
<rect x="1185" y="171" width="3" height="15" fill="#26a69a"/>
<rect x="1191" y="171" width="1" height="23" fill="#ef5350"/>
<rect x="1190" y="172" width="3" height="21" fill="#ef5350"/>
<rect x="1196" y="178" width="1" height="17" fill="#26a69a"/>
<rect x="1195" y="186" width="3" height="7" fill="#26a69a"/>
<rect x="1201" y="154" width="1" height="47" fill="#26a69a"/>
<rect x="1200" y="157" width="3" height="29" fill="#26a69a"/>
<rect x="1206" y="155" width="1" height="48" fill="#ef5350"/>
<rect x="1205" y="157" width="3" height="39" fill="#ef5350"/>
<rect x="1211" y="185" width="1" height="15" fill="#26a69a"/>
<rect x="1210" y="191" width="3" height="4" fill="#26a69a"/>
</g><g clip-path="url(#cr)">
<path d="M8.0,579.1 L12.5,583.6 L16.5,587.6 L21.5,585.1 L26.5,623.0 L31.5,595.7 L36.5,587.4 L41.5,607.2 L46.5,605.5 L50.5,623.3 L55.5,621.3 L60.5,617.2 L65.5,628.9 L70.5,630.8 L75.5,613.0 L80.5,634.8 L84.5,669.2 L89.5,658.4 L94.5,651.5 L99.5,599.6 L104.5,626.7 L109.5,625.6 L114.5,639.2 L118.5,648.6 L123.5,642.9 L128.5,639.9 L133.5,658.3 L138.5,656.5 L143.5,668.1 L148.5,695.9 L152.5,705.6 L157.5,663.6 L162.5,650.7 L167.5,636.6 L172.5,649.0 L177.5,666.8 L181.5,654.6 L186.5,671.5 L191.5,665.9 L196.5,648.4 L201.5,654.4 L206.5,640.1 L211.5,635.6 L215.5,622.7 L220.5,635.5 L225.5,648.5 L230.5,632.2 L235.5,648.5 L240.5,653.0 L245.5,666.5 L249.5,668.0 L254.5,675.1 L259.5,679.2 L264.5,676.3 L269.5,678.8 L274.5,679.2 L279.5,679.2 L283.5,683.8 L288.5,669.0 L293.5,641.8 L298.5,655.2 L303.5,639.7 L308.5,645.6 L313.5,657.2 L317.5,648.1 L322.5,642.5 L327.5,669.4 L332.5,652.7 L337.5,638.6 L342.5,655.0 L347.5,658.5 L351.5,651.4 L356.5,646.6 L361.5,631.2 L366.5,614.1 L371.5,630.9 L376.5,624.2 L381.5,630.3 L385.5,614.8 L390.5,643.3 L395.5,651.4 L400.5,643.5 L405.5,650.0 L410.5,636.4 L415.5,644.8 L419.5,663.7 L424.5,688.3 L429.5,687.8 L434.5,704.1 L439.5,689.1 L444.5,672.1 L448.5,682.0 L453.5,694.2 L458.5,683.7 L463.5,703.0 L468.5,674.2 L473.5,686.7 L478.5,674.2 L482.5,645.7 L487.5,640.3 L492.5,615.5 L497.5,604.7 L502.5,599.5 L507.5,616.6 L512.5,591.1 L516.5,622.4 L521.5,626.7 L526.5,622.2 L531.5,608.1 L536.5,642.0 L541.5,660.1 L546.5,662.3 L550.5,656.6 L555.5,683.9 L560.5,662.9 L565.5,659.4 L570.5,652.2 L575.5,648.7 L580.5,627.7 L584.5,619.6 L589.5,611.8 L594.5,602.6 L599.5,610.1 L604.5,594.6 L609.5,592.5 L614.5,588.7 L618.5,586.7 L623.5,623.4 L628.5,643.6 L633.5,647.4 L638.5,645.1 L643.5,643.4 L648.5,627.1 L652.5,637.0 L657.5,638.7 L662.5,656.0 L667.5,677.4 L672.5,677.4 L677.5,704.7 L682.5,710.0 L686.5,682.3 L691.5,695.7 L696.5,682.1 L701.5,657.8 L706.5,669.5 L711.5,659.8 L715.5,645.5 L720.5,645.5 L725.5,676.9 L730.5,666.0 L735.5,665.2 L740.5,676.2 L745.5,706.7 L749.5,710.4 L754.5,688.8 L759.5,697.5 L764.5,704.3 L769.5,713.1 L774.5,722.1 L779.5,729.1 L783.5,725.9 L788.5,735.5 L793.5,712.0 L798.5,712.0 L803.5,722.5 L808.5,707.4 L813.5,697.8 L817.5,692.6 L822.5,690.2 L827.5,678.1 L832.5,685.6 L837.5,683.8 L842.5,701.4 L847.5,706.8 L851.5,698.1 L856.5,699.8 L861.5,689.0 L866.5,675.9 L871.5,679.7 L876.5,700.7 L881.5,699.0 L885.5,699.5 L890.5,704.4 L895.5,698.2 L900.5,673.6 L905.5,652.3 L910.5,632.7 L915.5,610.4 L919.5,599.2 L924.5,625.1 L929.5,590.1 L934.5,597.3 L939.5,593.1 L944.5,600.8 L948.5,628.4 L953.5,619.5 L958.5,648.9 L963.5,652.9 L968.5,635.2 L973.5,610.2 L978.5,607.6 L982.5,645.0 L987.5,650.8 L992.5,648.1 L997.5,633.2 L1002.5,651.2 L1007.5,649.4 L1012.5,656.4 L1016.5,652.0 L1021.5,643.9 L1026.5,648.0 L1031.5,636.1 L1036.5,645.1 L1041.5,640.6 L1046.5,645.9 L1050.5,656.4 L1055.5,653.6 L1060.5,645.7 L1065.5,636.9 L1070.5,609.4 L1075.5,622.2 L1080.5,633.5 L1084.5,626.2 L1089.5,607.2 L1094.5,617.5 L1099.5,609.8 L1104.5,611.3 L1109.5,643.2 L1114.5,658.2 L1118.5,683.4 L1123.5,674.5 L1128.5,689.3 L1133.5,709.8 L1138.5,702.6 L1143.5,692.3 L1148.5,706.3 L1152.5,708.9 L1157.5,706.2 L1162.5,715.3 L1167.5,671.8 L1172.5,660.7 L1177.5,663.8 L1182.5,674.4 L1186.5,665.6 L1191.5,678.9 L1196.5,674.1 L1201.5,656.6 L1206.5,680.0 L1211.5,676.8" fill="none" stroke="#7e57c2" stroke-width="2" stroke-linejoin="round" stroke-linecap="round"/>
</g>
<rect x="10" y="572" width="1367" height="1" fill="#e0e3eb"/>
<rect x="1309" y="27" width="1" height="748" fill="#e0e3eb"/>
<rect x="10" y="747" width="1367" height="1" fill="#e0e3eb"/>
<rect x="9.75" y="26.75" width="1367.5" height="748.5" fill="none" stroke="#e6e8ee" stroke-width="1.5"/>
<text x="1319" y="57.0" font-size="12" fill="#131722" text-anchor="start" font-weight="normal" font-family="Liberation Sans, sans-serif">120.00</text>
<text x="1319" y="102.3" font-size="12" fill="#131722" text-anchor="start" font-weight="normal" font-family="Liberation Sans, sans-serif">110.00</text>
<text x="1319" y="147.7" font-size="12" fill="#131722" text-anchor="start" font-weight="normal" font-family="Liberation Sans, sans-serif">100.00</text>
<text x="1319" y="238.4" font-size="12" fill="#131722" text-anchor="start" font-weight="normal" font-family="Liberation Sans, sans-serif">80.00</text>
<text x="1319" y="329.1" font-size="12" fill="#131722" text-anchor="start" font-weight="normal" font-family="Liberation Sans, sans-serif">60.00</text>
<text x="1319" y="374.4" font-size="12" fill="#131722" text-anchor="start" font-weight="normal" font-family="Liberation Sans, sans-serif">50.00</text>
<text x="1319" y="419.8" font-size="12" fill="#131722" text-anchor="start" font-weight="normal" font-family="Liberation Sans, sans-serif">40.00</text>
<text x="1319" y="465.1" font-size="12" fill="#131722" text-anchor="start" font-weight="normal" font-family="Liberation Sans, sans-serif">30.00</text>
<text x="1319" y="510.5" font-size="12" fill="#131722" text-anchor="start" font-weight="normal" font-family="Liberation Sans, sans-serif">20.00</text>
<text x="1319" y="555.8" font-size="12" fill="#131722" text-anchor="start" font-weight="normal" font-family="Liberation Sans, sans-serif">10.00</text>
<text x="1319" y="607.7" font-size="12" fill="#131722" text-anchor="start" font-weight="normal" font-family="Liberation Sans, sans-serif">70.00</text>
<text x="1319" y="641.2" font-size="12" fill="#131722" text-anchor="start" font-weight="normal" font-family="Liberation Sans, sans-serif">60.00</text>
<text x="1319" y="674.7" font-size="12" fill="#131722" text-anchor="start" font-weight="normal" font-family="Liberation Sans, sans-serif">50.00</text>
<text x="1319" y="708.2" font-size="12" fill="#131722" text-anchor="start" font-weight="normal" font-family="Liberation Sans, sans-serif">40.00</text>
<text x="1319" y="741.7" font-size="12" fill="#131722" text-anchor="start" font-weight="normal" font-family="Liberation Sans, sans-serif">30.00</text>
<text x="55.8" y="765" font-size="12" fill="#131722" text-anchor="middle" font-weight="normal" font-family="Liberation Sans, sans-serif">Sep</text>
<text x="201.4" y="765" font-size="12" fill="#131722" text-anchor="middle" font-weight="normal" font-family="Liberation Sans, sans-serif">Oct</text>
<text x="351.9" y="765" font-size="12" fill="#131722" text-anchor="middle" font-weight="normal" font-family="Liberation Sans, sans-serif">Nov</text>
<text x="497.5" y="765" font-size="12" fill="#131722" text-anchor="middle" font-weight="normal" font-family="Liberation Sans, sans-serif">Dec</text>
<text x="648.0" y="765" font-size="12" fill="#131722" text-anchor="middle" font-weight="bold" font-family="Liberation Sans, sans-serif">2022</text>
<text x="798.5" y="765" font-size="12" fill="#131722" text-anchor="middle" font-weight="normal" font-family="Liberation Sans, sans-serif">Feb</text>
<text x="934.4" y="765" font-size="12" fill="#131722" text-anchor="middle" font-weight="normal" font-family="Liberation Sans, sans-serif">Mar</text>
<text x="1084.9" y="765" font-size="12" fill="#131722" text-anchor="middle" font-weight="normal" font-family="Liberation Sans, sans-serif">Apr</text>
<text x="1230.6" y="765" font-size="12" fill="#131722" text-anchor="middle" font-weight="normal" font-family="Liberation Sans, sans-serif">May</text>
<rect x="1325.5" y="33.5" width="35" height="17.5" rx="4" fill="#fff" stroke="#d1d4dc" stroke-width="1"/>
<text x="1343" y="47" font-size="12" fill="#131722" text-anchor="middle" font-family="Liberation Sans, sans-serif" textLength="28" lengthAdjust="spacingAndGlyphs">USDT</text>
<path d="M1283.1,149.1 H1307.8 V165.7 H1283.1 Q1281.1,165.7 1281.1,163.7 V151.1 Q1281.1,149.1 1283.1,149.1 Z" fill="#f44336"/>
<text x="1302.8" y="161.9" font-size="12" fill="#fff" fill-opacity="1" text-anchor="end" font-weight="bold" font-family="Liberation Sans, sans-serif" textLength="17" lengthAdjust="spacingAndGlyphs">MA</text>
<path d="M1309.2,149.1 H1352.8 Q1354.8,149.1 1354.8,151.1 V163.7 Q1354.8,165.7 1352.8,165.7 H1309.2 Z" fill="#f44336"/>
<text x="1318.6" y="161.9" font-size="12" fill="#fff" fill-opacity="1" text-anchor="start" font-weight="bold" font-family="Liberation Sans, sans-serif" textLength="30.5" lengthAdjust="spacingAndGlyphs">94.37</text>
<path d="M1276.2,166.2 H1307.8 V182.79999999999998 H1276.2 Q1274.2,182.79999999999998 1274.2,180.79999999999998 V168.2 Q1274.2,166.2 1276.2,166.2 Z" fill="#0c2f9c"/>
<text x="1302.8" y="179.0" font-size="12" fill="#fff" fill-opacity="1" text-anchor="end" font-weight="bold" font-family="Liberation Sans, sans-serif" textLength="23.5" lengthAdjust="spacingAndGlyphs">EMA</text>
<path d="M1309.2,166.2 H1352.8 Q1354.8,166.2 1354.8,168.2 V180.79999999999998 Q1354.8,182.79999999999998 1352.8,182.79999999999998 H1309.2 Z" fill="#0c2f9c"/>
<text x="1318.6" y="179.0" font-size="12" fill="#fff" fill-opacity="1" text-anchor="start" font-weight="bold" font-family="Liberation Sans, sans-serif" textLength="30.5" lengthAdjust="spacingAndGlyphs">91.46</text>
<path d="M1242.1,183.1 H1307.8 V199.4 H1242.1 Q1240.1,199.4 1240.1,197.4 V185.1 Q1240.1,183.1 1242.1,183.1 Z" fill="#26a69a"/>
<text x="1302" y="196.2" font-size="12" fill="#fff" fill-opacity="1" text-anchor="end" font-weight="bold" font-family="Liberation Sans, sans-serif" textLength="57" lengthAdjust="spacingAndGlyphs">LUNAUSDT</text>
<path d="M1309.2,183 H1371.8 V212 Q1371.8,214 1369.8,214 H1309.2 Z" fill="#26a69a"/>
<text x="1318.6" y="196.2" font-size="12" fill="#fff" fill-opacity="1" text-anchor="start" font-weight="bold" font-family="Liberation Sans, sans-serif" textLength="30.5" lengthAdjust="spacingAndGlyphs">89.33</text>
<text x="1318.6" y="210.2" font-size="12" fill="#fff" fill-opacity="0.85" text-anchor="start" font-weight="bold" font-family="Liberation Sans, sans-serif" textLength="47.5" lengthAdjust="spacingAndGlyphs">07:09:24</text>
<path d="M1309.2,248 H1352.8 Q1354.8,248 1354.8,250 V262.6 Q1354.8,264.6 1352.8,264.6 H1309.2 Z" fill="#0000ff"/>
<text x="1318.6" y="260.8" font-size="12" fill="#fff" fill-opacity="1" text-anchor="start" font-weight="bold" font-family="Liberation Sans, sans-serif" textLength="30.5" lengthAdjust="spacingAndGlyphs">75.00</text>
<path d="M1283.1,274.3 H1307.8 V290.6 H1283.1 Q1281.1,290.6 1281.1,288.6 V276.3 Q1281.1,274.3 1283.1,274.3 Z" fill="#0b7b6a"/>
<text x="1302.8" y="286.8" font-size="12" fill="#fff" fill-opacity="1" text-anchor="end" font-weight="bold" font-family="Liberation Sans, sans-serif" textLength="17" lengthAdjust="spacingAndGlyphs">MA</text>
<path d="M1309.2,274.3 H1352.8 Q1354.8,274.3 1354.8,276.3 V288.6 Q1354.8,290.6 1352.8,290.6 H1309.2 Z" fill="#0b7b6a"/>
<text x="1318.6" y="286.8" font-size="12" fill="#fff" fill-opacity="1" text-anchor="start" font-weight="bold" font-family="Liberation Sans, sans-serif" textLength="30.5" lengthAdjust="spacingAndGlyphs">69.39</text>
<path d="M1282,669 H1307.8 V685.8 H1282 Q1280,685.8 1280,683.8 V671 Q1280,669 1282,669 Z" fill="#7e57c2"/>
<text x="1302.8" y="682.0" font-size="12" fill="#fff" fill-opacity="1" text-anchor="end" font-weight="bold" font-family="Liberation Sans, sans-serif" textLength="16.5" lengthAdjust="spacingAndGlyphs">RSI</text>
<path d="M1309.2,669 H1352.8 Q1354.8,669 1354.8,671 V683.8 Q1354.8,685.8 1352.8,685.8 H1309.2 Z" fill="#7e57c2"/>
<text x="1318.6" y="682.0" font-size="12" fill="#fff" fill-opacity="1" text-anchor="start" font-weight="bold" font-family="Liberation Sans, sans-serif" textLength="30.5" lengthAdjust="spacingAndGlyphs">47.84</text>
<text x="17.8" y="45.9" font-size="12" fill="#131722" font-weight="normal" font-family="Liberation Sans, sans-serif" textLength="163.0" lengthAdjust="spacingAndGlyphs" xml:space="preserve">Luna / TetherUS, 1D, BINANCE</text>
<text x="187.8" y="45.9" font-size="12" fill="#131722" font-weight="normal" font-family="Liberation Sans, sans-serif" xml:space="preserve">O</text>
<text x="195.4" y="45.9" font-size="12" fill="#26a69a" font-weight="normal" font-family="Liberation Sans, sans-serif" textLength="30.5" lengthAdjust="spacingAndGlyphs" xml:space="preserve">88.43</text>
<text x="232.8" y="45.9" font-size="12" fill="#131722" font-weight="normal" font-family="Liberation Sans, sans-serif" xml:space="preserve">H</text>
<text x="240.9" y="45.9" font-size="12" fill="#26a69a" font-weight="normal" font-family="Liberation Sans, sans-serif" textLength="30.0" lengthAdjust="spacingAndGlyphs" xml:space="preserve">90.64</text>
<text x="277.8" y="45.9" font-size="12" fill="#131722" font-weight="normal" font-family="Liberation Sans, sans-serif" xml:space="preserve">L</text>
<text x="283.9" y="45.9" font-size="12" fill="#26a69a" font-weight="normal" font-family="Liberation Sans, sans-serif" textLength="30.0" lengthAdjust="spacingAndGlyphs" xml:space="preserve">87.50</text>
<text x="320.0" y="45.9" font-size="12" fill="#131722" font-weight="normal" font-family="Liberation Sans, sans-serif" xml:space="preserve">C</text>
<text x="327.7" y="45.9" font-size="12" fill="#26a69a" font-weight="normal" font-family="Liberation Sans, sans-serif" textLength="30.0" lengthAdjust="spacingAndGlyphs" xml:space="preserve">89.33</text>
<text x="364.0" y="45.9" font-size="12" fill="#26a69a" font-weight="normal" font-family="Liberation Sans, sans-serif" textLength="80.0" lengthAdjust="spacingAndGlyphs" xml:space="preserve">+0.90 (+1.02%)</text>
<text x="17.8" y="62.5" font-size="12" fill="#131722" font-weight="normal" font-family="Liberation Sans, sans-serif" textLength="91.0" lengthAdjust="spacingAndGlyphs" xml:space="preserve">MA (50, close, 0)</text>
<text x="115.2" y="62.5" font-size="12" fill="#f44336" font-weight="normal" font-family="Liberation Sans, sans-serif" textLength="30.0" lengthAdjust="spacingAndGlyphs" xml:space="preserve">94.37</text>
<text x="17.8" y="79.3" font-size="12" fill="#131722" font-weight="normal" font-family="Liberation Sans, sans-serif" textLength="97.0" lengthAdjust="spacingAndGlyphs" xml:space="preserve">EMA (20, close, 0)</text>
<text x="121.8" y="79.3" font-size="12" fill="#1c3fa8" font-weight="normal" font-family="Liberation Sans, sans-serif" textLength="30.0" lengthAdjust="spacingAndGlyphs" xml:space="preserve">91.46</text>
<text x="17.8" y="96.3" font-size="12" fill="#131722" font-weight="normal" font-family="Liberation Sans, sans-serif" textLength="97.0" lengthAdjust="spacingAndGlyphs" xml:space="preserve">MA (200, close, 0)</text>
<text x="121.4" y="96.3" font-size="12" fill="#0b7b6a" font-weight="normal" font-family="Liberation Sans, sans-serif" textLength="30.0" lengthAdjust="spacingAndGlyphs" xml:space="preserve">69.39</text>
<text x="17.9" y="591.7" font-size="12" fill="#131722" font-weight="normal" font-family="Liberation Sans, sans-serif" textLength="77.0" lengthAdjust="spacingAndGlyphs" xml:space="preserve">RSI (14, close)</text>
<text x="101.3" y="591.7" font-size="12" fill="#7e57c2" font-weight="normal" font-family="Liberation Sans, sans-serif" textLength="30.0" lengthAdjust="spacingAndGlyphs" xml:space="preserve">47.84</text>
<text x="9.5" y="18.6" font-size="12.5" fill="#131722" font-weight="normal" font-family="Liberation Sans, sans-serif" textLength="361.0" lengthAdjust="spacingAndGlyphs" xml:space="preserve">ranadagger published on TradingView.com, Apr 27, 2022 16:50 UTC</text>
<g fill="#131722"><path d="M10.1,787.1 H17.65 V796.8 H14.1 V790.8 H10.1 Z"/><circle cx="21.05" cy="789.1" r="1.9"/><path d="M25.06,787.1 H29.4 L25.5,796.8 H21.2 Z"/></g>
<text x="32.6" y="796.8" font-size="12.5" fill="#2a2e39" font-weight="normal" font-family="Liberation Sans, sans-serif" textLength="71.0" lengthAdjust="spacingAndGlyphs" xml:space="preserve">TradingView</text>
</svg>
</body></html>
